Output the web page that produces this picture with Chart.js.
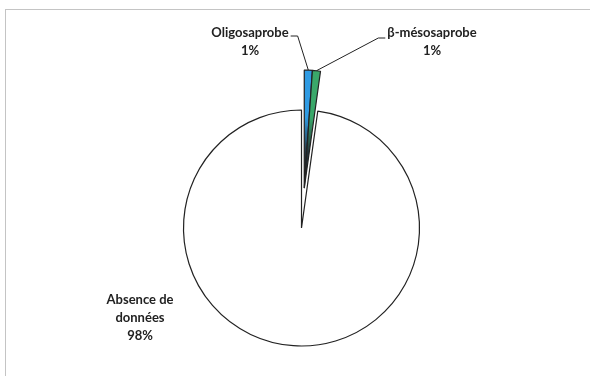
<!DOCTYPE html>
<html>
<head>
<meta charset="utf-8">
<script src="https://cdn.jsdelivr.net/npm/chart.js@4.4.0/dist/chart.umd.min.js"></script>
<style>
  body { margin: 0; background: #fff; }
  #wrap { position: relative; width: 590px; height: 376px; }
  #frame { position: absolute; left: 5px; top: 9px; width: 600px; height: 400px;
           border-left: 1px solid #c4c4c4; border-top: 1px solid #c4c4c4; }
  canvas { position: absolute; left: 0; top: 0; }
</style>
</head>
<body>
<div id="wrap">
  <div id="frame"></div>
  <canvas id="myChart" width="590" height="376"></canvas>
</div>
<script>
// data
const categories = ['Oligosaprobe', 'β-mésosaprobe', 'Absence de données'];
const values = [1.1, 1.1, 97.8];
const labelLines = [['Oligosaprobe', '1%'], ['β-mésosaprobe', '1%'], ['Absence de', 'données', '98%']];

const colors = ['#2f9be3', '#3aa86a', '#ffffff'];
const explode = [40, 40, 0];
const total = values.reduce((a, b) => a + b, 0);

// both small slices are pulled out together, along the middle of the pair
function explodeAngle() {
    let sum = 0;
    for (let k = 0; k < values.length; k++) if (explode[k]) sum += values[k];
    return (sum / 2) / total * Math.PI * 2; // clockwise from 12 o'clock
}

function sliceFill(context) {
    const i = context.dataIndex;
    const chart = context.chart;
    const area = chart.chartArea;
    if (!area || explode[i] === 0) return colors[i];
    const cx = (area.left + area.right) / 2;
    const cy = (area.top + area.bottom) / 2;
    const a = explodeAngle();
    const tx = cx + Math.sin(a) * explode[i];
    const ty = cy - Math.cos(a) * explode[i];
    const g = chart.ctx.createRadialGradient(tx, ty, 0, tx, ty, 118);
    g.addColorStop(0, '#1b2329');
    g.addColorStop(0.3, '#26343d');
    g.addColorStop(0.6, colors[i]);
    g.addColorStop(1, colors[i]);
    return g;
}

const explodePlugin = {
    id: 'explode',
    afterDatasetUpdate(chart, args) {
        const meta = chart.getDatasetMeta(args.index);
        const a = explodeAngle() - Math.PI / 2;
        meta.data.forEach((arc, i) => {
            if (!explode[i]) return;
            arc.x += Math.cos(a) * explode[i];
            arc.y += Math.sin(a) * explode[i];
        });
    }
};

const labelPos = [[250, 33], [432, 33], [140, 300]];

const labelPlugin = {
    id: 'sliceLabels',
    afterDraw(chart) {
        const ctx = chart.ctx;
        const arcs = chart.getDatasetMeta(0).data;
        ctx.save();
        ctx.fillStyle = '#222';
        ctx.font = 'bold 13px Lato';
        ctx.textAlign = 'center';
        ctx.textBaseline = 'middle';
        labelLines.forEach((lines, i) => {
            lines.forEach((t, j) => ctx.fillText(t, labelPos[i][0], labelPos[i][1] + j * 18));
        });

        // leader lines
        ctx.strokeStyle = '#222';
        ctx.lineWidth = 1;
        for (let i = 0; i < 2; i++) {
            const arc = arcs[i];
            const a = (arc.startAngle + arc.endAngle) / 2;
            const ex = arc.x + Math.cos(a) * arc.outerRadius;
            const ey = arc.y + Math.sin(a) * arc.outerRadius;
            const w = ctx.measureText(labelLines[i][0]).width;
            ctx.beginPath();
            if (i === 0) {
                const sx = labelPos[i][0] + w / 2 + 2;
                ctx.moveTo(sx, 36);
                ctx.lineTo(sx + 7, 36);
            } else {
                const sx = labelPos[i][0] - w / 2 - 2;
                ctx.moveTo(sx, 38);
                ctx.lineTo(sx - 7, 38);
            }
            ctx.lineTo(ex, ey);
            ctx.stroke();
        }
        ctx.restore();
    }
};

const data = {
    labels: categories,
    datasets: [{
        data: values,
        backgroundColor: sliceFill,
        borderColor: '#222',
        borderWidth: 1.2,
        radius: 118
    }]
};

const config = {
    type: 'pie',
    data: data,
    options: {
        responsive: false,
        animation: false,
        layout: { padding: { left: 13, right: 0, top: 80, bottom: 0 } },
        plugins: {
            legend: { display: false },
            tooltip: { enabled: false }
        }
    },
    plugins: [explodePlugin, labelPlugin]
};

new Chart(document.getElementById('myChart'), config);
</script>
</body>
</html>
